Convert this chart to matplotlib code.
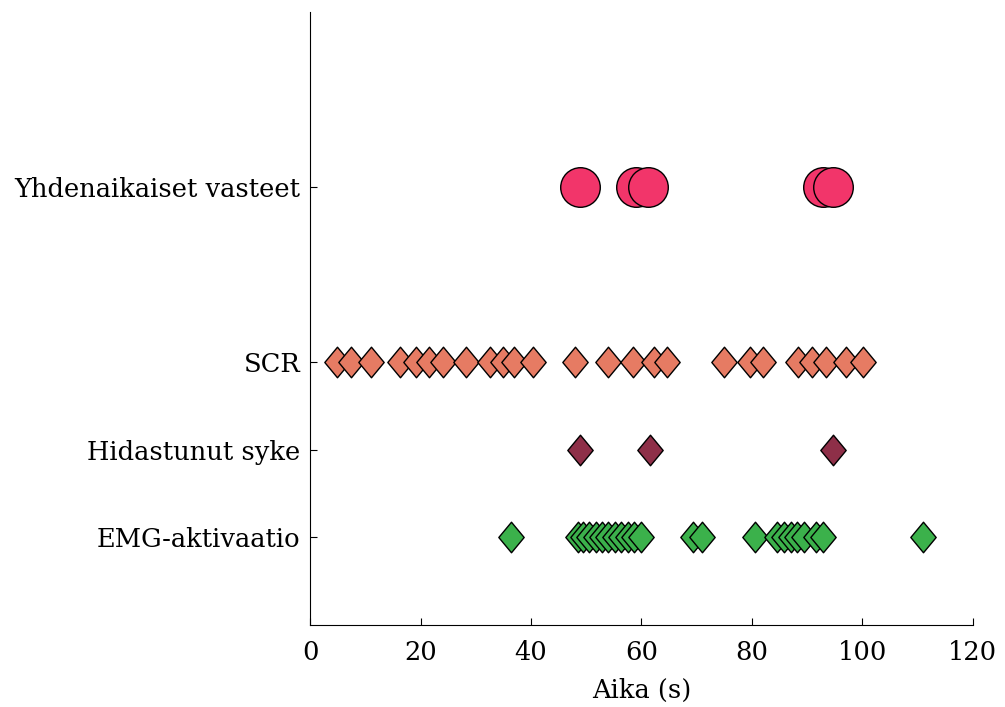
import numpy as np
import matplotlib.pyplot as plt
from matplotlib.path import Path

plt.rcParams['font.family'] = ['DejaVu Serif']

ROWS = ['EMG-aktivaatio', 'Hidastunut syke', 'SCR', 'Yhdenaikaiset vasteet']
ROW_Y = [1, 2, 3, 5]

emg = [36.3, 48.5, 49.5, 50.5, 51.8, 52.9, 54.0, 55.2, 56.3, 57.5, 58.6, 60.0,
       69.4, 70.9, 80.5, 84.6, 85.8, 87.0, 88.2, 89.4, 91.6, 92.9, 111.0]
syke = [48.9, 61.5, 94.7]
scr = [4.8, 7.5, 11.0, 16.2, 19.2, 21.6, 24.0, 28.2, 32.6, 34.9, 36.9, 40.3, 48.0,
       54.0, 58.5, 62.3, 64.6, 74.9, 79.6, 82.0, 88.4, 90.8, 93.5, 97.1, 100.2]
yhden = [48.9, 59.1, 61.2, 92.9, 94.6]

# diamond a bit narrower than tall
diamond = Path([(0, 1), (0.83, 0), (0, -1), (-0.83, 0), (0, 1)],
               [Path.MOVETO, Path.LINETO, Path.LINETO, Path.LINETO, Path.CLOSEPOLY])

fig = plt.figure(figsize=(10.05, 7.07), dpi=100)
ax = fig.add_axes([0.3085, 0.116, 0.6595, 0.867])

def row(xs, y, color, marker, size):
    ax.plot(xs, np.full(len(xs), y), linestyle='none', marker=marker,
            markersize=size, markerfacecolor=color, markeredgecolor='black',
            markeredgewidth=1.0)

row(emg, ROW_Y[0], '#3BB14B', diamond, 22)
row(syke, ROW_Y[1], '#8E2F48', diamond, 22)
row(scr, ROW_Y[2], '#E67B63', diamond, 22)
row(yhden, ROW_Y[3], '#F2356A', 'o', 28.5)

ax.set_xlim(0, 120)
ax.set_ylim(0, 7)
ax.set_xticks(range(0, 121, 20))
ax.set_yticks(ROW_Y)
ax.set_yticklabels(ROWS)
ax.set_xlabel('Aika (s)', fontsize=18.5, labelpad=9)
ax.tick_params(direction='in', length=5, labelsize=18.5)
ax.tick_params(axis='y', pad=7)
ax.tick_params(axis='x', pad=11)
ax.spines['top'].set_visible(False)
ax.spines['right'].set_visible(False)

fig.savefig('out.png', dpi=100)
